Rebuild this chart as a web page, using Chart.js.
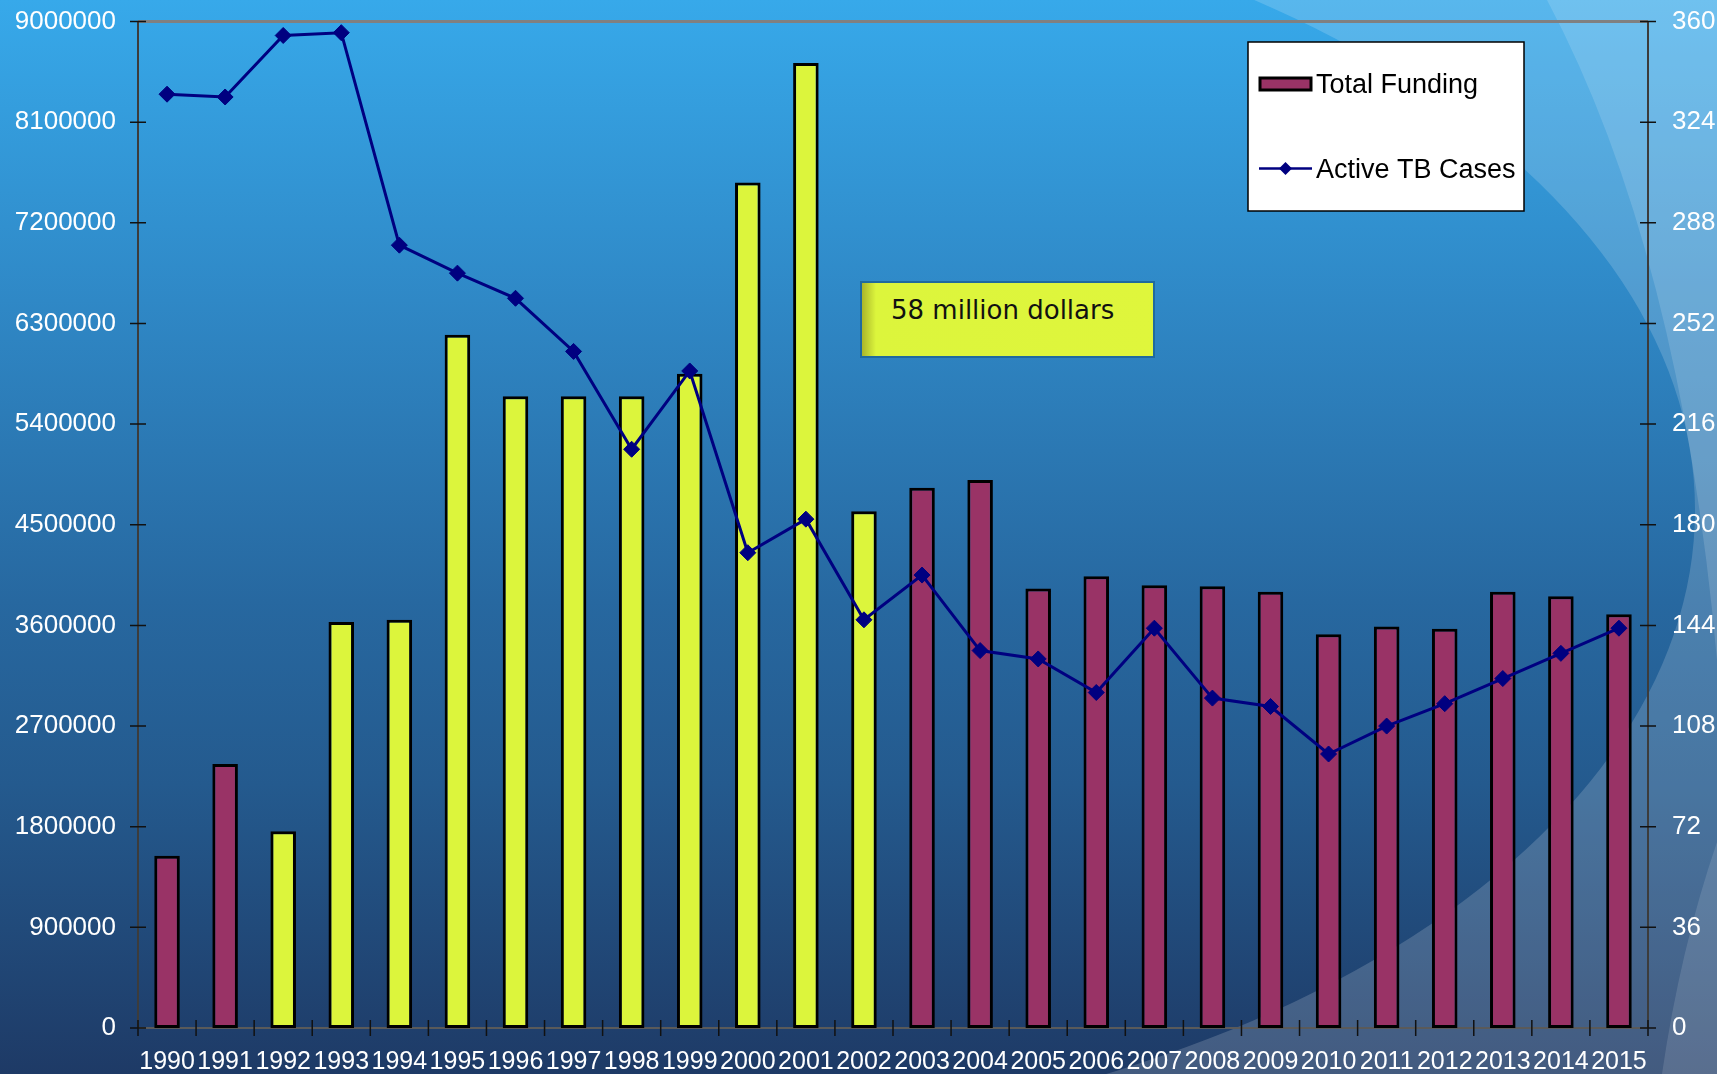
<!DOCTYPE html>
<html>
<head>
<meta charset="utf-8">
<title>Total Funding and Active TB Cases</title>
<script src="https://cdn.jsdelivr.net/npm/chart.js@4/dist/chart.umd.min.js"></script>
<style>
    html, body { margin: 0; padding: 0; overflow: hidden; background: #1e3a66; }
    #wrap { position: relative; width: 1717px; height: 1074px; }
    #note {
        position: absolute;
        left: 860px; top: 281px;
        width: 291px; height: 73px;
        box-sizing: content-box;
        border: 2px solid #1f6a9e;
        background: linear-gradient(to right, #a9b52a 0px, #dcf53c 14px, #dff63c 100%);
        font-family: "DejaVu Sans", Verdana, sans-serif;
        font-size: 26px;
        color: #111;
        padding: 0;
    }
    #note span { position: absolute; left: 29px; top: 12px; white-space: nowrap; }
</style>
</head>
<body>
<div id="wrap">
    <canvas id="myChart" width="1717" height="1074"></canvas>
    <div id="note"><span>58 million dollars</span></div>
</div>
<script>
// years on the x axis
var years = ["1990", "1991", "1992", "1993", "1994", "1995", "1996", "1997", "1998",
    "1999", "2000", "2001", "2002", "2003", "2004", "2005", "2006", "2007", "2008",
    "2009", "2010", "2011", "2012", "2013", "2014", "2015"];

// dollars per year (left axis)
var funding = [1540000, 2360000, 1760000, 3630000, 3650000, 6200000, 5650000, 5650000,
    5650000, 5850000, 7560000, 8630000, 4620000, 4830000, 4900000, 3930000, 4040000,
    3960000, 3950000, 3900000, 3520000, 3590000, 3570000, 3900000, 3860000, 3700000];

// cases per year (right axis)
var cases = [334, 333, 355, 356, 280, 270, 261, 242, 207, 235, 170, 182, 146, 162, 135,
    132, 120, 143, 118, 115, 98, 108, 116, 125, 134, 143];

// years that belong to the 58 million dollar period
var highlight = ["1992", "1993", "1994", "1995", "1996", "1997", "1998", "1999", "2000",
    "2001", "2002"];

var fundTicks = [0, 900000, 1800000, 2700000, 3600000, 4500000, 5400000, 6300000,
    7200000, 8100000, 9000000];
var caseTicks = [0, 36, 72, 108, 144, 180, 216, 252, 288, 324, 360];

var MAGENTA = "#993366";
var YELLOW = "#dcf53c";
var NAVY = "#000080";

var barColors = years.map(function (y) {
    return highlight.indexOf(y) >= 0 ? YELLOW : MAGENTA;
});

var axisFont = { family: "'Liberation Sans', Arial, sans-serif", size: 26 };

// slide style backdrop
var backdrop = {
    id: "backdrop",
    beforeDraw: function (chart) {
        var c = chart.ctx, W = chart.width, H = chart.height;
        c.save();
        var g = c.createLinearGradient(0, 0, 0, H);
        g.addColorStop(0, "#37a9ea");
        g.addColorStop(0.28, "#2f88c6");
        g.addColorStop(0.56, "#2768a0");
        g.addColorStop(0.73, "#245a8e");
        g.addColorStop(1, "#1e3a66");
        c.fillStyle = g;
        c.fillRect(0, 0, W, H);

        // lighter area outside the big swoosh (right half only)
        c.save();
        c.beginPath();
        c.rect(800, 0, W - 800, H);
        c.clip();
        c.beginPath();
        c.rect(0, 0, W, H);
        c.ellipse(600, 510, 1095, 636, 0, 0, Math.PI * 2);
        c.fillStyle = "rgba(255,255,255,0.17)";
        c.fill("evenodd");
        c.restore();

        // second band at top right
        c.beginPath();
        c.moveTo(1547, 0);
        c.quadraticCurveTo(1680, 250, 1717, 660);
        c.lineTo(1717, 0);
        c.closePath();
        c.fillStyle = "rgba(255,255,255,0.14)";
        c.fill();

        // bottom right corner
        c.beginPath();
        c.moveTo(1717, 842);
        c.quadraticCurveTo(1680, 950, 1662, 1074);
        c.lineTo(1717, 1074);
        c.closePath();
        c.fillStyle = "rgba(255,255,255,0.12)";
        c.fill();
        c.restore();
    }
};

// axis lines and cross tick marks
var axisLines = {
    id: "axisLines",
    beforeDatasetsDraw: function (chart) {
        var c = chart.ctx, a = chart.chartArea;
        var sx = chart.scales.x, sy = chart.scales.y, sy1 = chart.scales.y1;
        c.save();
        c.lineCap = "butt";

        c.strokeStyle = "#808080";
        c.lineWidth = 3;
        c.beginPath();
        c.moveTo(a.left, a.top);
        c.lineTo(a.right, a.top);
        c.stroke();

        c.strokeStyle = "#3c3c3c";
        c.lineWidth = 2;
        c.beginPath();
        c.moveTo(a.left, a.top);
        c.lineTo(a.left, a.bottom);
        c.moveTo(a.right, a.top);
        c.lineTo(a.right, a.bottom);
        c.stroke();

        c.strokeStyle = "#5a5a5a";
        c.beginPath();
        c.moveTo(a.left, a.bottom);
        c.lineTo(a.right, a.bottom);
        c.stroke();

        c.strokeStyle = "#111";
        c.lineWidth = 1.5;
        c.beginPath();
        fundTicks.forEach(function (v) {
            var y = sy.getPixelForValue(v);
            c.moveTo(a.left - 8, y);
            c.lineTo(a.left + 8, y);
        });
        caseTicks.forEach(function (v) {
            var y = sy1.getPixelForValue(v);
            c.moveTo(a.right - 8, y);
            c.lineTo(a.right + 8, y);
        });
        var step = (a.right - a.left) / years.length;
        for (var i = 0; i <= years.length; i++) {
            var x = sx.left + i * step;
            c.moveTo(x, a.bottom - 8);
            c.lineTo(x, a.bottom + 8);
        }
        c.stroke();
        c.restore();
    }
};

// legend box in the top right corner
var legendBox = {
    id: "legendBox",
    afterDraw: function (chart) {
        var c = chart.ctx;
        c.save();
        c.fillStyle = "#ffffff";
        c.fillRect(1248, 42, 276, 169);
        c.strokeStyle = "#000";
        c.lineWidth = 1.5;
        c.strokeRect(1248, 42, 276, 169);

        c.fillStyle = MAGENTA;
        c.fillRect(1260, 78, 51, 12);
        c.strokeStyle = "#000";
        c.lineWidth = 3;
        c.strokeRect(1260, 78, 51, 12);

        c.strokeStyle = NAVY;
        c.lineWidth = 2.5;
        c.beginPath();
        c.moveTo(1259, 168.5);
        c.lineTo(1312, 168.5);
        c.stroke();
        c.fillStyle = NAVY;
        c.beginPath();
        c.moveTo(1285.5, 162);
        c.lineTo(1292, 168.5);
        c.lineTo(1285.5, 175);
        c.lineTo(1279, 168.5);
        c.closePath();
        c.fill();

        c.fillStyle = "#000";
        c.font = "27px 'Liberation Sans', Arial, sans-serif";
        c.textBaseline = "alphabetic";
        c.fillText("Total Funding", 1316, 93);
        c.fillText("Active TB Cases", 1316, 178);
        c.restore();
    }
};

function noPadY(s) { s.paddingTop = 0; s.paddingBottom = 0; }

new Chart(document.getElementById("myChart"), {
    data: {
        labels: years,
        datasets: [
            {
                type: "line",
                label: "Active TB Cases",
                data: cases,
                yAxisID: "y1",
                borderColor: NAVY,
                borderWidth: 3,
                backgroundColor: NAVY,
                pointStyle: "rectRot",
                pointRadius: 8,
                pointBackgroundColor: NAVY,
                pointBorderColor: NAVY,
                pointBorderWidth: 1,
                tension: 0,
                order: 0
            },
            {
                type: "bar",
                label: "Total Funding",
                data: funding,
                yAxisID: "y",
                backgroundColor: barColors,
                borderColor: "#000",
                borderWidth: 3,
                borderSkipped: false,
                categoryPercentage: 1,
                barPercentage: 0.44,
                order: 1
            }
        ]
    },
    options: {
        responsive: false,
        animation: false,
        layout: { padding: { top: 21.5, left: 0, right: 0, bottom: 0 } },
        plugins: {
            legend: { display: false },
            tooltip: { enabled: false }
        },
        scales: {
            x: {
                grid: { display: false, drawTicks: false },
                border: { display: false },
                ticks: {
                    color: "#fff",
                    font: { family: "'Liberation Sans', Arial, sans-serif", size: 25 },
                    maxRotation: 0,
                    minRotation: 0,
                    autoSkip: false,
                    padding: 19
                },
                afterFit: function (s) {
                    s.height = 46;
                    s.paddingLeft = 0;
                    s.paddingRight = 0;
                }
            },
            y: {
                position: "left",
                min: 0,
                max: 9000000,
                grid: { display: false, drawTicks: false },
                border: { display: false },
                ticks: {
                    stepSize: 900000,
                    color: "#fff",
                    font: axisFont,
                    padding: 22,
                    callback: function (v) { return String(v); }
                },
                afterFit: function (s) { s.width = 138; noPadY(s); }
            },
            y1: {
                position: "right",
                min: 0,
                max: 360,
                grid: { display: false, drawTicks: false },
                border: { display: false },
                ticks: {
                    stepSize: 36,
                    color: "#fff",
                    font: axisFont,
                    padding: 24,
                    callback: function (v) { return String(v); }
                },
                afterFit: function (s) { s.width = 69; noPadY(s); }
            }
        }
    },
    plugins: [backdrop, axisLines, legendBox]
});
</script>
</body>
</html>
